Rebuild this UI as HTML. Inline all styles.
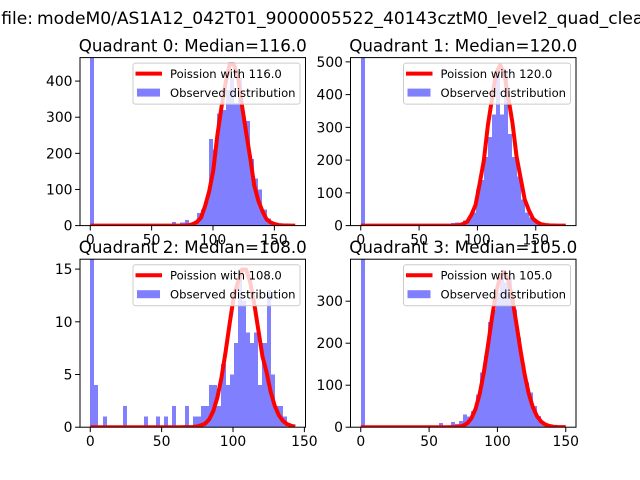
<!DOCTYPE html>
<html><head><meta charset="utf-8"><style>
html,body{margin:0;padding:0;background:#fff;}
svg{display:block;font-family:"DejaVu Sans","Liberation Sans",sans-serif;}
</style></head><body>
<svg id="fig" width="640" height="480" viewBox="0 0 640 480" xmlns="http://www.w3.org/2000/svg">
<rect width="640" height="480" fill="#fff"/>
<text x="33" y="24" font-size="17.1" text-anchor="end">Counts in file:</text>
<text x="37" y="24" font-size="17.1">modeM0/AS1A12_042T01_9000005522_40143cztM0_level2_quad_clean.evt</text>
</svg>
<script>
const quadrantNames = ["Quadrant 0: Median=116.0","Quadrant 1: Median=120.0","Quadrant 2: Median=108.0","Quadrant 3: Median=105.0"];
const medians = [116, 120, 108, 105];
const dataMax = [167, 175.7, 143.6, 150];
const yMax = [465, 513, 15.94, 400];
const poissonPeak = [450, 490, 15.1, 370];
const yTicks0 = [0,100,200,300,400];
const yTicks1 = [0,100,200,300,400,500];
const yTicks2 = [0,5,10,15];
const yTicks3 = [0,100,200,300];
const xTicks = [0,50,100,150];
const counts0 = [1000,0,0,0,0,0,0,0,0,0,0,0,0,0,0,0,0,0,0,0,10,5,8,15,5,8,35,45,70,240,210,310,320,375,410,340,410,300,290,185,130,100,45,20,10,5,3,2,1,1];
const counts1 = [1000,0,0,0,0,0,0,0,0,0,0,0,0,0,0,0,0,3,0,5,0,5,8,10,5,15,20,40,110,140,210,270,340,470,340,470,280,210,150,80,40,25,15,5,2,1,0,0,0,0];
const counts2 = [30,4,0,1,0,0,0,0,2,0,0,0,0,1,0,0,1,0,1,0,2,0,0,2,0,1,1,2,2,4,4,2,6,4,5,8,15,12,9,8,9,4,8,13,5,2,2,1,0,0];
const counts3 = [1000,0,0,0,0,0,0,0,0,0,0,0,0,0,0,0,0,0,0,10,0,3,12,8,15,30,25,38,78,130,170,250,280,320,357,345,357,280,213,146,106,83,51,27,11,5,2,1,0,0];
const allCounts = [counts0, counts1, counts2, counts3];
const allYTicks = [yTicks0, yTicks1, yTicks2, yTicks3];

const NS = "http://www.w3.org/2000/svg";
const fig = document.getElementById('fig');
function mk(tag, attrs, parent){ const e=document.createElementNS(NS,tag); for(const k in attrs) e.setAttribute(k,attrs[k]); (parent||fig).appendChild(e); return e; }
function lgam(n){ let s=0; for(let i=2;i<=n;i++) s+=Math.log(i); return s; }

const boxes = [[80,57.6],[350.5,57.6],[80,259.2],[350.5,259.2]];
const W = 225.5, H = 168;
for(let q=0;q<4;q++){
  const [L,T] = boxes[q];
  const g = mk('g',{});
  
  
  const dm = dataMax[q], marg = dm*0.05;
  const x0 = -marg, x1 = dm+marg;
  const sx = v => L + (v-x0)/(x1-x0)*W;
  const sy = v => T + H - v/yMax[q]*H;
  const cp = mk('clipPath',{id:'cp'+q},g);
  mk('rect',{x:L,y:T,width:W,height:H},cp);
  const clipG = mk('g',{'clip-path':'url(#cp'+q+')'},g);
  const bars = mk('g',{'shape-rendering':'crispEdges'},clipG);
  
  
  const c = allCounts[q], bw = dm/c.length;
  c.forEach((v,i)=>{
    if(v<=0) return;
    const xa=Math.round(sx(i*bw)), xb=Math.round(sx((i+1)*bw));
    const r = mk('rect',{x:xa,y:sy(v),width:xb-xa,height:sy(0)-sy(v),fill:'#8080ff'},bars);
    
    
  });
  const lam = medians[q];
  let pts=[], vals=[];
  for(let i=0;i<=c.length;i++){ const k=Math.round(i*bw); vals.push([i*bw, Math.exp(k*Math.log(lam)-lam-lgam(k))]); }
  const pm = Math.exp(Math.floor(lam)*Math.log(lam)-lam-lgam(Math.floor(lam)));
  vals.forEach(([x,p])=>pts.push(sx(x).toFixed(2)+','+sy(p/pm*poissonPeak[q]).toFixed(2)));
  const pl = mk('polyline',{points:pts.join(' '),fill:'none',stroke:'#ff0000','stroke-width':4,'stroke-linejoin':'round'},clipG);
  
  
  const fr = mk('rect',{x:L,y:T,width:W,height:H,fill:'none',stroke:'#000','stroke-width':1},g);
  
  
  xTicks.forEach(t=>{
    const x=sx(t);
    mk('line',{x1:x,x2:x,y1:T+H,y2:T+H+4.9,stroke:'#000','stroke-width':1},g);
    const tx=mk('text',{x:x,y:T+H+19,'font-size':13.9,'text-anchor':'middle'},g); tx.textContent=t;
    
    
  });
  allYTicks[q].forEach(t=>{
    const y=sy(t);
    mk('line',{x1:L-4.9,x2:L,y1:y,y2:y,stroke:'#000','stroke-width':1},g);
    const tx=mk('text',{x:L-7.5,y:y+5,'font-size':13.9,'text-anchor':'end'},g); tx.textContent=t;
    
    
  });
  const ti=mk('text',{x:L+W/2,y:T-6,'font-size':16.7,'text-anchor':'middle'},g); ti.textContent=quadrantNames[q];
  
  
  const lg = mk('g',{},g);
  
  
  const lr=L+W-5.5, lw=167, lx=lr-lw, ly=T+5.5;
  mk('rect',{x:lx,y:ly,width:lw,height:41,rx:2.5,fill:'#fff','fill-opacity':0.8,stroke:'#cccccc','stroke-width':1},lg);
  mk('line',{x1:lx+2.5,x2:lx+29,y1:ly+10.5,y2:ly+10.5,stroke:'#ff0000','stroke-width':4},lg);
  const t1=mk('text',{x:lx+37,y:ly+15,'font-size':11.6},lg); t1.textContent='Poission with '+lam.toFixed(1);
  
  
  mk('rect',{x:lx+4,y:ly+25.5,width:23,height:8,fill:'#8080ff'},lg);
  const t2=mk('text',{x:lx+37,y:ly+34,'font-size':11.6},lg); t2.textContent='Observed distribution';
  
  
}
</script>
</body></html>
